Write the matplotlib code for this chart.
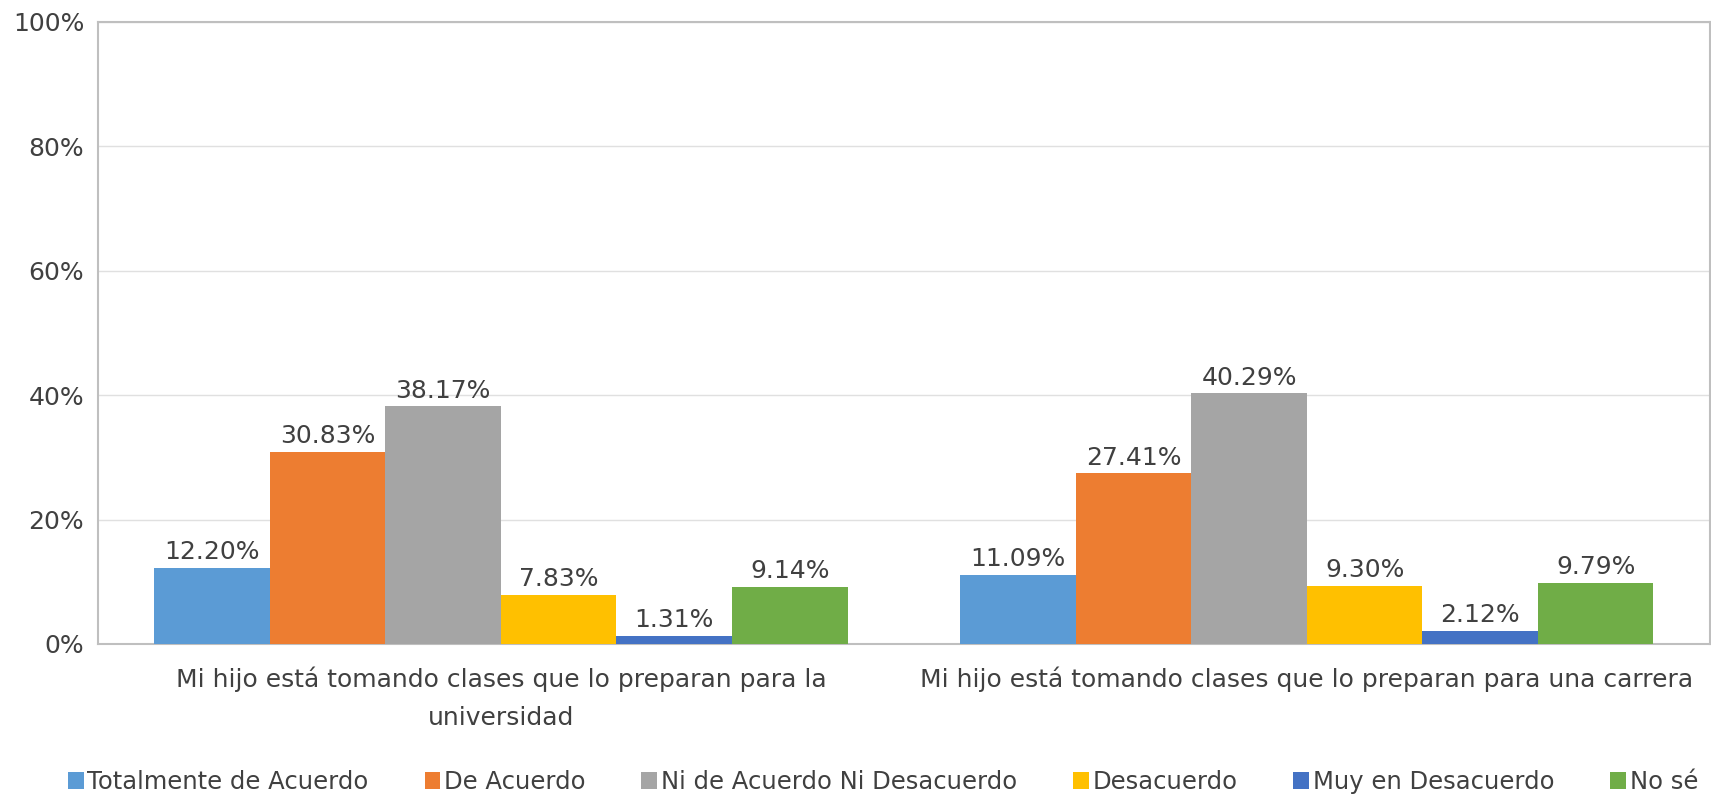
import matplotlib.pyplot as plt
import numpy as np

plt.rcParams['font.family'] = ['DejaVu Sans']

# --- data ---
categories = ["Mi hijo está tomando clases que lo preparan para la\nuniversidad",
              "Mi hijo está tomando clases que lo preparan para una carrera"]
series = ["Totalmente de Acuerdo", "De Acuerdo", "Ni de Acuerdo Ni Desacuerdo",
          "Desacuerdo", "Muy en Desacuerdo", "No sé"]
values = [
    [12.20, 11.09],
    [30.83, 27.41],
    [38.17, 40.29],
    [7.83, 9.30],
    [1.31, 2.12],
    [9.14, 9.79],
]
colors = ["#5B9BD5", "#ED7D31", "#A5A5A5", "#FFC000", "#4472C4", "#70AD47"]

fig = plt.figure(figsize=(17.11, 7.94), dpi=100)
ax = fig.add_axes([0.0573, 0.189, 0.942, 0.7835])

x = np.arange(len(categories))
n = len(series)
bw = 0.86 / n
for i, (name, vals, c) in enumerate(zip(series, values, colors)):
    pos = x - 0.43 + bw * (i + 0.5)
    bars = ax.bar(pos, vals, width=bw, color=c, label=name, zorder=3)
    for b, v in zip(bars, vals):
        ax.text(b.get_x() + b.get_width() / 2, v + 0.6, f"{v:.2f}%",
                ha='center', va='bottom', fontsize=18, color='#404040', zorder=4)

ax.set_xlim(-0.5, 1.5)
ax.set_ylim(0, 100)
ax.set_yticks(np.arange(0, 101, 20))
ax.set_yticklabels([f"{t}%" for t in range(0, 101, 20)], fontsize=18, color='#404040')
ax.set_xticks(x)
ax.set_xticklabels(categories, fontsize=18, color='#404040', linespacing=1.75)
ax.tick_params(axis='both', length=0)
ax.tick_params(axis='y', pad=10)
ax.tick_params(axis='x', pad=16)
ax.grid(axis='y', color='#E0E0E0', linewidth=1, zorder=0)
for s in ax.spines.values():
    s.set_color('#BFBFBF')
    s.set_linewidth(1.5)

ax.legend(loc='center', bbox_to_anchor=(0.487, -0.222), ncol=6, frameon=False,
          fontsize=17.5, handlelength=0.65, handleheight=0.65, handletextpad=0.15,
          columnspacing=2.3, labelcolor='#404040')

fig.savefig("out.png", dpi=100)
